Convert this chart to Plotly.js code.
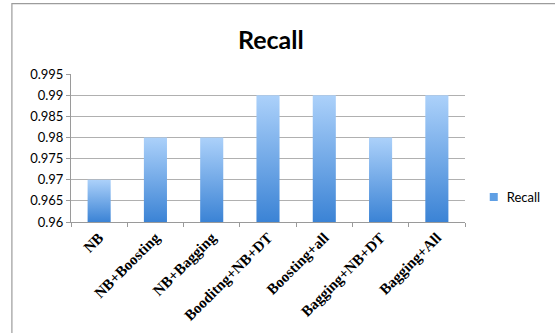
<!DOCTYPE html>
<html>
<head>
<meta charset="utf-8">
<script src="https://cdn.plot.ly/plotly-3.0.1.min.js"></script>
<style>
  html, body { margin: 0; padding: 0; background: #fff; }
  #chart { width: 555px; height: 333px; }
</style>
</head>
<body>
<div id="chart"></div>
<script>
// Recall per ensemble configuration
const categories = ["NB", "NB+Boosting", "NB+Bagging", "Booditng+NB+DT", "Boosting+all", "Bagging+NB+DT", "Bagging+All"];
const recall = [0.97, 0.98, 0.98, 0.99, 0.99, 0.98, 0.99];
const yTickVals = [0.96, 0.965, 0.97, 0.975, 0.98, 0.985, 0.99, 0.995];
const yTickText = ["0.96", "0.965", "0.97", "0.975", "0.98", "0.985", "0.99", "0.995"];

const trace = {
  type: "bar",
  name: "Recall",
  x: categories,
  y: recall,
  marker: { color: "#5e9de3", line: { width: 0 } },
  hoverinfo: "x+y"
};

const layout = {
  width: 555,
  height: 333,
  margin: { l: 71, r: 90, t: 74, b: 111 },
  paper_bgcolor: "#ffffff",
  plot_bgcolor: "#ffffff",
  title: {
    text: "<b>Recall</b>",
    font: { family: "Lato, 'Open Sans', sans-serif", size: 25, color: "#000" },
    xref: "container", x: 0.488, xanchor: "center",
    yref: "container", y: 0.88, yanchor: "middle"
  },
  bargap: 0.59,
  showlegend: true,
  legend: {
    xref: "container", yref: "container",
    x: 0.841, xanchor: "left",
    y: 0.408, yanchor: "middle",
    font: { family: "Lato, 'Open Sans', sans-serif", size: 13, color: "#000" },
    itemwidth: 30,
    bgcolor: "rgba(0,0,0,0)"
  },
  xaxis: {
    type: "category",
    tickson: "boundaries",
    ticks: "outside",
    ticklen: 4,
    tickcolor: "#9a9a9a",
    showline: true,
    linecolor: "#9a9a9a",
    linewidth: 1,
    showgrid: false,
    tickangle: -45,
    tickfont: { family: "'Liberation Serif', 'Times New Roman', serif", size: 15, color: "#000", weight: "bold" },
    automargin: false,
    fixedrange: true
  },
  yaxis: {
    range: [0.96, 0.995],
    tickvals: yTickVals,
    ticktext: yTickText,
    ticks: "outside",
    ticklen: 4,
    tickcolor: "#9a9a9a",
    showline: true,
    linecolor: "#9a9a9a",
    linewidth: 1,
    showgrid: true,
    gridcolor: "#b0b0b0",
    gridwidth: 1,
    zeroline: false,
    tickfont: { family: "Lato, 'Open Sans', sans-serif", size: 13, color: "#000" },
    automargin: false,
    fixedrange: true
  },
  shapes: [{
    type: "rect",
    xref: "paper", yref: "paper",
    x0: -0.150, x1: 1.6,
    y0: -1.0, y1: 1.476,
    line: { color: "#9c9c9c", width: 1.2 },
    fillcolor: "rgba(0,0,0,0)",
    layer: "below"
  }]
};

const SVGNS = "http://www.w3.org/2000/svg";

function makeGradient(defs, id, y1, y2) {
  let g = defs.querySelector("#" + id);
  if (g) g.remove();
  g = document.createElementNS(SVGNS, "linearGradient");
  g.setAttribute("id", id);
  g.setAttribute("gradientUnits", "userSpaceOnUse");
  g.setAttribute("x1", "0"); g.setAttribute("x2", "0");
  g.setAttribute("y1", String(y1)); g.setAttribute("y2", String(y2));
  [["0%", "#acd1fa"], ["100%", "#3b83d5"]].forEach(([off, col]) => {
    const s = document.createElementNS(SVGNS, "stop");
    s.setAttribute("offset", off);
    s.setAttribute("stop-color", col);
    g.appendChild(s);
  });
  defs.appendChild(g);
}

// Each bar gets a vertical gradient running from its own top down to the x axis
function applyGradient(gd) {
  try {
    const svg = gd.querySelector("svg.main-svg");
    if (!svg || !gd._fullLayout || !gd._fullLayout.yaxis) return;
    let defs = svg.querySelector("defs");
    if (!defs) {
      defs = document.createElementNS(SVGNS, "defs");
      svg.insertBefore(defs, svg.firstChild);
    }
    const plotH = gd._fullLayout.yaxis._length;
    const bars = svg.querySelectorAll("g.barlayer g.point path");
    bars.forEach((p, i) => {
      const top = Math.max(0, p.getBBox().y);
      const id = "barGrad" + i;
      makeGradient(defs, id, top, plotH);
      p.style.fill = "url(#" + id + ")";
      p.setAttribute("fill", "url(#" + id + ")");
    });
    // small square legend swatch
    gd.querySelectorAll("g.legend g.legendpoints path").forEach(p => {
      p.setAttribute("d", "M3,-4H11V4H3Z");
      p.style.fill = "#5f9fe4";
    });
  } catch (e) {
    console.error(e);
  }
}

const gd = document.getElementById("chart");
Plotly.newPlot(gd, [trace], layout, { displayModeBar: false, staticPlot: true });
if (gd.on) gd.on("plotly_afterplot", () => applyGradient(gd));
[0, 50, 200, 600, 1200].forEach(t => setTimeout(() => applyGradient(gd), t));
</script>
</body>
</html>
